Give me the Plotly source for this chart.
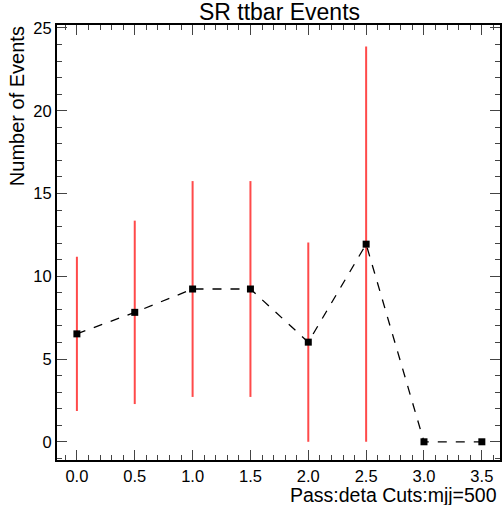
import plotly.graph_objects as go

x_vals = [0.0, 0.5, 1.0, 1.5, 2.0, 2.5, 3.0, 3.5]
y_vals = [6.52, 7.82, 9.23, 9.23, 6.02, 11.94, 0.0, 0.0]
y_errs = [4.66, 5.54, 6.52, 6.52, 6.02, 11.94, 0.0, 0.0]

title_text = "SR ttbar Events"
x_title = "Pass:deta Cuts:mjj=500"
y_title = "Number of Events"

W, H = 503, 505
ml, mr, mt, mb = 57, 1, 25, 45
pw = W - ml - mr
ph = H - mt - mb

font = "Liberation Sans, Arial, sans-serif"

fig = go.Figure()
fig.add_trace(go.Scatter(
    x=x_vals, y=y_vals,
    mode="lines+markers",
    line=dict(color="black", width=1.3, dash="dash"),
    marker=dict(symbol="square", size=7, color="black"),
    error_y=dict(type="data", array=y_errs, visible=True,
                 color="#ff4a4a", thickness=2, width=0),
    showlegend=False,
))

fig.update_layout(
    width=W, height=H,
    margin=dict(l=ml, r=mr, t=mt, b=mb),
    paper_bgcolor="white", plot_bgcolor="white",
    font=dict(family=font, color="black", size=16),
    title=dict(text=title_text, x=(ml + pw / 2) / W, xanchor="center",
               y=1 - 12 / H, yanchor="middle",
               font=dict(size=23, family=font)),
    annotations=[
        dict(text=x_title, xref="paper", yref="paper",
             x=(501 - ml) / pw, y=-(494.5 - (mt + ph)) / ph,
             xanchor="right", yanchor="middle", showarrow=False,
             font=dict(size=19.5, family=font)),
        dict(text=y_title, xref="paper", yref="paper",
             x=(17 - ml) / pw, y=(mt + ph - 24) / ph,
             xanchor="center", yanchor="top", textangle=-90, showarrow=False,
             font=dict(size=20, family=font)),
    ],
)

fig.update_xaxes(
    range=[-0.172, 3.657],
    tick0=0, dtick=0.5, tickformat=".1f",
    ticks="inside", ticklen=10, tickwidth=1, tickcolor="#444",
    minor=dict(dtick=0.1, tick0=0, ticks="inside", ticklen=5, tickwidth=1, tickcolor="#444"),
    showline=True, linecolor="black", linewidth=2, mirror="allticks",
    showgrid=False, zeroline=False,
    tickfont=dict(size=16.5, family=font),
)
fig.update_yaxes(
    range=[-1.1, 25.18],
    tick0=0, dtick=5,
    ticks="inside", ticklen=10, tickwidth=1, tickcolor="#444",
    minor=dict(dtick=1, tick0=0, ticks="inside", ticklen=5, tickwidth=1, tickcolor="#444"),
    showline=True, linecolor="black", linewidth=2, mirror="allticks",
    showgrid=False, zeroline=False,
    tickfont=dict(size=16.5, family=font),
)

fig.write_html("out.html")
